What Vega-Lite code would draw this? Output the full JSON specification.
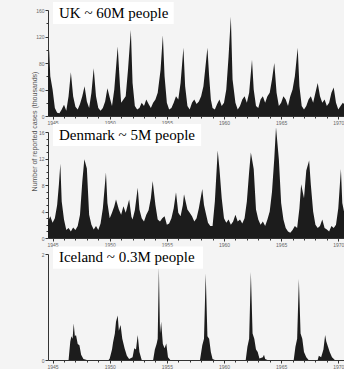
{
  "$schema": "https://vega.github.io/schema/vega-lite/v6.json",
  "background": "#f4f4f4",
  "padding": {"left": 29, "top": 2, "right": 0, "bottom": 0},
  "bounds": "flush",
  "spacing": 16,
  "config": {
    "view": {"stroke": null},
    "axis": {
      "grid": false,
      "domainColor": "#333333",
      "tickColor": "#333333",
      "labelColor": "#666666",
      "labelFontSize": 5,
      "labelFont": "Liberation Sans",
      "labelPadding": 1,
      "labelOverlap": false,
      "labelFlush": false
    },
    "axisQuantitative": {"labelOverlap": false},
    "axisX": {"labelOverlap": false},
    "axisY": {"labelOverlap": false}
  },
  "datasets": {
    "uk": [
      {"t":1944.6,"v":70},{"t":1944.7,"v":100},{"t":1944.8,"v":60},{"t":1945.0,"v":40},{"t":1945.2,"v":12},{"t":1945.4,"v":5},{"t":1945.6,"v":4},{"t":1945.8,"v":10},{"t":1946.0,"v":17},{"t":1946.2,"v":8},{"t":1946.4,"v":30},{"t":1946.6,"v":66},{"t":1946.8,"v":30},{"t":1947.0,"v":14},{"t":1947.2,"v":10},{"t":1947.4,"v":18},{"t":1947.6,"v":30},{"t":1947.8,"v":45},{"t":1948.0,"v":22},{"t":1948.2,"v":12},{"t":1948.4,"v":35},{"t":1948.6,"v":72},{"t":1948.8,"v":30},{"t":1949.0,"v":12},{"t":1949.2,"v":8},{"t":1949.4,"v":12},{"t":1949.6,"v":22},{"t":1949.8,"v":42},{"t":1950.0,"v":28},{"t":1950.2,"v":15},{"t":1950.4,"v":40},{"t":1950.7,"v":105},{"t":1950.9,"v":45},{"t":1951.0,"v":20},{"t":1951.2,"v":25},{"t":1951.4,"v":30},{"t":1951.6,"v":70},{"t":1951.85,"v":130},{"t":1952.0,"v":50},{"t":1952.2,"v":15},{"t":1952.4,"v":10},{"t":1952.6,"v":12},{"t":1952.8,"v":20},{"t":1953.0,"v":15},{"t":1953.2,"v":25},{"t":1953.4,"v":18},{"t":1953.6,"v":12},{"t":1953.8,"v":20},{"t":1954.0,"v":25},{"t":1954.2,"v":35},{"t":1954.45,"v":70},{"t":1954.65,"v":122},{"t":1954.8,"v":60},{"t":1955.0,"v":20},{"t":1955.2,"v":10},{"t":1955.4,"v":12},{"t":1955.6,"v":20},{"t":1955.8,"v":30},{"t":1956.0,"v":25},{"t":1956.2,"v":50},{"t":1956.45,"v":103},{"t":1956.6,"v":45},{"t":1956.8,"v":15},{"t":1957.0,"v":10},{"t":1957.2,"v":20},{"t":1957.4,"v":25},{"t":1957.6,"v":18},{"t":1957.8,"v":22},{"t":1958.0,"v":30},{"t":1958.2,"v":45},{"t":1958.55,"v":103},{"t":1958.7,"v":60},{"t":1958.85,"v":25},{"t":1959.0,"v":12},{"t":1959.2,"v":10},{"t":1959.4,"v":18},{"t":1959.6,"v":25},{"t":1959.8,"v":15},{"t":1960.0,"v":20},{"t":1960.2,"v":40},{"t":1960.4,"v":90},{"t":1960.6,"v":150},{"t":1960.75,"v":55},{"t":1961.0,"v":20},{"t":1961.2,"v":10},{"t":1961.4,"v":15},{"t":1961.6,"v":25},{"t":1961.8,"v":30},{"t":1962.0,"v":20},{"t":1962.2,"v":35},{"t":1962.45,"v":85},{"t":1962.6,"v":40},{"t":1962.8,"v":15},{"t":1963.0,"v":12},{"t":1963.2,"v":25},{"t":1963.4,"v":30},{"t":1963.6,"v":20},{"t":1963.8,"v":30},{"t":1964.0,"v":35},{"t":1964.2,"v":55},{"t":1964.4,"v":80},{"t":1964.6,"v":35},{"t":1964.8,"v":15},{"t":1965.0,"v":20},{"t":1965.2,"v":30},{"t":1965.4,"v":25},{"t":1965.6,"v":15},{"t":1965.8,"v":30},{"t":1966.0,"v":40},{"t":1966.2,"v":60},{"t":1966.45,"v":103},{"t":1966.6,"v":45},{"t":1966.8,"v":15},{"t":1967.0,"v":10},{"t":1967.2,"v":15},{"t":1967.4,"v":25},{"t":1967.6,"v":30},{"t":1967.8,"v":20},{"t":1968.0,"v":35},{"t":1968.2,"v":50},{"t":1968.4,"v":30},{"t":1968.6,"v":20},{"t":1968.8,"v":25},{"t":1969.0,"v":15},{"t":1969.2,"v":20},{"t":1969.4,"v":35},{"t":1969.6,"v":43},{"t":1969.8,"v":20},{"t":1970.0,"v":10},{"t":1970.2,"v":15},{"t":1970.4,"v":20},{"t":1970.5,"v":18}
    ],
    "dk": [
      {"t":1944.6,"v":2.5},{"t":1944.8,"v":3.3},{"t":1945.0,"v":2.3},{"t":1945.2,"v":3.0},{"t":1945.4,"v":5.0},{"t":1945.55,"v":8.0},{"t":1945.68,"v":11.2},{"t":1945.8,"v":5.5},{"t":1946.0,"v":2.8},{"t":1946.2,"v":1.2},{"t":1946.4,"v":1.5},{"t":1946.6,"v":1.0},{"t":1946.8,"v":1.6},{"t":1947.0,"v":1.2},{"t":1947.2,"v":1.8},{"t":1947.4,"v":3.5},{"t":1947.6,"v":8.5},{"t":1947.78,"v":11.9},{"t":1948.0,"v":10.5},{"t":1948.2,"v":3.5},{"t":1948.4,"v":2.0},{"t":1948.6,"v":1.3},{"t":1948.8,"v":1.8},{"t":1949.0,"v":1.2},{"t":1949.2,"v":2.2},{"t":1949.4,"v":4.5},{"t":1949.67,"v":9.9},{"t":1949.8,"v":5.3},{"t":1950.0,"v":3.0},{"t":1950.2,"v":3.8},{"t":1950.4,"v":4.8},{"t":1950.55,"v":5.8},{"t":1950.8,"v":4.3},{"t":1951.0,"v":3.5},{"t":1951.2,"v":4.8},{"t":1951.4,"v":3.8},{"t":1951.7,"v":5.8},{"t":1951.9,"v":3.2},{"t":1952.0,"v":2.8},{"t":1952.2,"v":4.2},{"t":1952.45,"v":7.6},{"t":1952.6,"v":4.3},{"t":1952.8,"v":3.0},{"t":1953.0,"v":2.5},{"t":1953.2,"v":3.5},{"t":1953.4,"v":4.2},{"t":1953.6,"v":6.0},{"t":1953.76,"v":8.6},{"t":1954.0,"v":5.0},{"t":1954.2,"v":2.8},{"t":1954.4,"v":2.5},{"t":1954.6,"v":3.0},{"t":1954.8,"v":3.3},{"t":1955.0,"v":2.0},{"t":1955.2,"v":2.2},{"t":1955.4,"v":3.0},{"t":1955.6,"v":4.5},{"t":1955.8,"v":6.9},{"t":1956.0,"v":3.8},{"t":1956.2,"v":3.3},{"t":1956.4,"v":5.0},{"t":1956.5,"v":6.6},{"t":1956.8,"v":4.3},{"t":1957.0,"v":3.8},{"t":1957.2,"v":3.3},{"t":1957.4,"v":2.5},{"t":1957.6,"v":3.0},{"t":1957.8,"v":4.5},{"t":1958.1,"v":7.4},{"t":1958.25,"v":5.0},{"t":1958.4,"v":3.8},{"t":1958.6,"v":2.3},{"t":1958.8,"v":1.8},{"t":1959.0,"v":1.8},{"t":1959.2,"v":5.5},{"t":1959.45,"v":13.2},{"t":1959.6,"v":10.5},{"t":1959.8,"v":6.0},{"t":1960.0,"v":3.0},{"t":1960.2,"v":2.3},{"t":1960.4,"v":2.8},{"t":1960.6,"v":2.0},{"t":1960.8,"v":2.5},{"t":1961.0,"v":3.5},{"t":1961.2,"v":2.5},{"t":1961.4,"v":2.8},{"t":1961.6,"v":2.2},{"t":1961.8,"v":3.0},{"t":1962.0,"v":5.5},{"t":1962.2,"v":10.0},{"t":1962.35,"v":12.9},{"t":1962.6,"v":10.4},{"t":1962.8,"v":4.3},{"t":1963.0,"v":2.8},{"t":1963.2,"v":2.0},{"t":1963.4,"v":2.5},{"t":1963.6,"v":1.8},{"t":1963.8,"v":2.8},{"t":1964.0,"v":4.0},{"t":1964.2,"v":7.0},{"t":1964.4,"v":12.0},{"t":1964.55,"v":16.7},{"t":1964.8,"v":11.9},{"t":1965.0,"v":5.3},{"t":1965.2,"v":2.8},{"t":1965.4,"v":1.5},{"t":1965.6,"v":1.0},{"t":1965.8,"v":0.8},{"t":1966.0,"v":1.2},{"t":1966.2,"v":1.8},{"t":1966.4,"v":1.5},{"t":1966.6,"v":4.5},{"t":1966.75,"v":8.1},{"t":1967.0,"v":6.0},{"t":1967.2,"v":10.2},{"t":1967.45,"v":11.7},{"t":1967.6,"v":8.0},{"t":1967.8,"v":4.0},{"t":1968.0,"v":2.0},{"t":1968.2,"v":1.5},{"t":1968.4,"v":1.8},{"t":1968.6,"v":2.8},{"t":1968.8,"v":1.5},{"t":1969.0,"v":1.3},{"t":1969.2,"v":1.0},{"t":1969.4,"v":1.8},{"t":1969.6,"v":1.5},{"t":1969.8,"v":2.0},{"t":1970.0,"v":4.5},{"t":1970.23,"v":10.4},{"t":1970.35,"v":5.3},{"t":1970.5,"v":4.0}
    ],
    "is": [
      {"t":1944.6,"v":0},{"t":1946.4,"v":0},{"t":1946.55,"v":0.35},{"t":1946.65,"v":0.45},{"t":1946.75,"v":0.4},{"t":1946.85,"v":0.69},{"t":1946.95,"v":0.45},{"t":1947.05,"v":0.47},{"t":1947.2,"v":0.3},{"t":1947.35,"v":0.28},{"t":1947.5,"v":0.1},{"t":1947.7,"v":0.02},{"t":1948.0,"v":0},{"t":1949.9,"v":0},{"t":1950.0,"v":0.03},{"t":1950.2,"v":0.2},{"t":1950.3,"v":0.34},{"t":1950.45,"v":0.5},{"t":1950.55,"v":0.72},{"t":1950.7,"v":0.84},{"t":1950.8,"v":0.55},{"t":1950.95,"v":0.66},{"t":1951.1,"v":0.4},{"t":1951.3,"v":0.22},{"t":1951.5,"v":0.08},{"t":1951.7,"v":0.02},{"t":1952.0,"v":0.05},{"t":1952.15,"v":0.22},{"t":1952.3,"v":0.2},{"t":1952.45,"v":0.47},{"t":1952.6,"v":0.15},{"t":1952.8,"v":0},{"t":1953.8,"v":0},{"t":1953.95,"v":0.2},{"t":1954.1,"v":0.3},{"t":1954.2,"v":0.4},{"t":1954.3,"v":1.75},{"t":1954.4,"v":0.5},{"t":1954.5,"v":0.72},{"t":1954.65,"v":0.3},{"t":1954.8,"v":0.22},{"t":1954.95,"v":0.31},{"t":1955.1,"v":0.05},{"t":1955.3,"v":0},{"t":1957.9,"v":0},{"t":1958.1,"v":0.28},{"t":1958.25,"v":0.4},{"t":1958.4,"v":1.63},{"t":1958.55,"v":0.45},{"t":1958.7,"v":0.4},{"t":1958.85,"v":0.15},{"t":1959.0,"v":0.02},{"t":1959.2,"v":0},{"t":1961.9,"v":0},{"t":1962.05,"v":0.25},{"t":1962.2,"v":0.4},{"t":1962.35,"v":1.66},{"t":1962.5,"v":0.5},{"t":1962.65,"v":0.4},{"t":1962.8,"v":0.2},{"t":1962.95,"v":0.15},{"t":1963.1,"v":0.03},{"t":1963.4,"v":0.05},{"t":1963.5,"v":0.1},{"t":1963.6,"v":0.02},{"t":1963.8,"v":0},{"t":1966.1,"v":0},{"t":1966.25,"v":0.25},{"t":1966.4,"v":0.4},{"t":1966.55,"v":1.53},{"t":1966.7,"v":0.5},{"t":1966.85,"v":0.4},{"t":1967.0,"v":0.15},{"t":1967.2,"v":0.05},{"t":1967.4,"v":0},{"t":1968.2,"v":0},{"t":1968.3,"v":0.08},{"t":1968.5,"v":0.05},{"t":1968.7,"v":0.2},{"t":1968.85,"v":0.47},{"t":1968.95,"v":0.35},{"t":1969.1,"v":0.25},{"t":1969.25,"v":0.15},{"t":1969.45,"v":0.05},{"t":1969.7,"v":0},{"t":1970.5,"v":0}
    ]
  },
  "vconcat": [
    {
      "width": 296, "height": 106,
      "encoding": {
        "x": {"field": "t", "type": "quantitative", "scale": {"domain": [1944.6, 1970.5], "nice": false, "zero": false},
          "axis": {"title": null, "format": "d", "labelOverlap": false, "values": [1945,1946,1947,1948,1949,1950,1951,1952,1953,1954,1955,1956,1957,1958,1959,1960,1961,1962,1963,1964,1965,1966,1967,1968,1969,1970], "labelExpr": "datum.value % 5 == 0 ? datum.label : ''", "tickSize": {"condition": {"test": "datum.value % 5 == 0", "value": 3}, "value": 2}}},
        "y": {"field": "v", "type": "quantitative", "scale": {"domain": [0, 160], "nice": false},
          "axis": {"title": null, "labelOverlap": false, "values": [0,20,40,60,80,100,120,140,160], "labelExpr": "datum.value % 40 == 0 ? datum.label : ''", "tickSize": {"condition": {"test": "datum.value % 40 == 0", "value": 3}, "value": 2}}}
      },
      "layer": [
        {"data": {"name": "uk"}, "mark": {"type": "area", "color": "#1c1c1c"}},
        {
          "data": {"values": [{"t": 1945.04, "t2": 1955.6, "v": 139, "v2": 172}]},
          "mark": {"type": "rect", "color": "#ffffff"},
          "encoding": {"x2": {"field": "t2"}, "y2": {"field": "v2"}}
        },
        {
          "data": {"values": [{"t": 1945.56, "v": 148, "label": "UK ~ 60M people"}]},
          "mark": {"type": "text", "font": "Liberation Serif", "fontSize": 15, "align": "left", "baseline": "alphabetic", "color": "#000000"},
          "encoding": {"text": {"field": "label"}}
        }
      ]
    },
    {
      "width": 296, "height": 106,
      "encoding": {
        "x": {"field": "t", "type": "quantitative", "scale": {"domain": [1944.6, 1970.5], "nice": false, "zero": false},
          "axis": {"title": null, "format": "d", "labelOverlap": false, "values": [1945,1946,1947,1948,1949,1950,1951,1952,1953,1954,1955,1956,1957,1958,1959,1960,1961,1962,1963,1964,1965,1966,1967,1968,1969,1970], "labelExpr": "datum.value % 5 == 0 ? datum.label : ''", "tickSize": {"condition": {"test": "datum.value % 5 == 0", "value": 3}, "value": 2}}},
        "y": {"field": "v", "type": "quantitative", "scale": {"domain": [0, 16], "nice": false},
          "axis": {"title": "Number of reported cases (thousands)", "titleFontSize": 7, "titleFont": "Liberation Sans", "titleFontWeight": "normal", "titleColor": "#555555", "titleX": -11, "titleY": -1, "labelOverlap": false, "values": [0,1,2,3,4,5,6,7,8,9,10,11,12,13,14,15,16], "labelExpr": "datum.value % 4 == 0 ? datum.label : ''", "tickSize": {"condition": {"test": "datum.value % 4 == 0", "value": 3}, "value": 2}}}
      },
      "layer": [
        {"data": {"name": "dk"}, "mark": {"type": "area", "color": "#1c1c1c"}},
        {
          "data": {"values": [{"t": 1945.04, "t2": 1958.0, "v": 13.9, "v2": 17.2}]},
          "mark": {"type": "rect", "color": "#ffffff"},
          "encoding": {"x2": {"field": "t2"}, "y2": {"field": "v2"}}
        },
        {
          "data": {"values": [{"t": 1945.56, "v": 14.8, "label": "Denmark ~ 5M people"}]},
          "mark": {"type": "text", "font": "Liberation Serif", "fontSize": 15, "align": "left", "baseline": "alphabetic", "color": "#000000"},
          "encoding": {"text": {"field": "label"}}
        }
      ]
    },
    {
      "width": 296, "height": 106,
      "encoding": {
        "x": {"field": "t", "type": "quantitative", "scale": {"domain": [1944.6, 1970.5], "nice": false, "zero": false},
          "axis": {"title": null, "format": "d", "labelOverlap": false, "values": [1945,1946,1947,1948,1949,1950,1951,1952,1953,1954,1955,1956,1957,1958,1959,1960,1961,1962,1963,1964,1965,1966,1967,1968,1969,1970], "labelExpr": "datum.value % 5 == 0 ? datum.label : ''", "tickSize": {"condition": {"test": "datum.value % 5 == 0", "value": 3}, "value": 2}}},
        "y": {"field": "v", "type": "quantitative", "scale": {"domain": [0, 2], "nice": false},
          "axis": {"title": null, "format": "d", "labelOverlap": false, "values": [0,0.1,0.2,0.3,0.4,0.5,0.6,0.7,0.8,0.9,1,1.1,1.2,1.3,1.4,1.5,1.6,1.7,1.8,1.9,2], "labelExpr": "datum.value % 1 == 0 ? datum.label : ''", "tickSize": {"condition": {"test": "datum.value % 1 == 0", "value": 3}, "value": 1.5}}}
      },
      "layer": [
        {"data": {"name": "is"}, "mark": {"type": "area", "color": "#1c1c1c"}},
        {
          "data": {"values": [{"t": 1945.04, "t2": 1958.16, "v": 1.72, "v2": 2.14}]},
          "mark": {"type": "rect", "color": "#ffffff"},
          "encoding": {"x2": {"field": "t2"}, "y2": {"field": "v2"}}
        },
        {
          "data": {"values": [{"t": 1945.56, "v": 1.85, "label": "Iceland ~ 0.3M people"}]},
          "mark": {"type": "text", "font": "Liberation Serif", "fontSize": 15, "align": "left", "baseline": "alphabetic", "color": "#000000"},
          "encoding": {"text": {"field": "label"}}
        }
      ]
    }
  ]
}
